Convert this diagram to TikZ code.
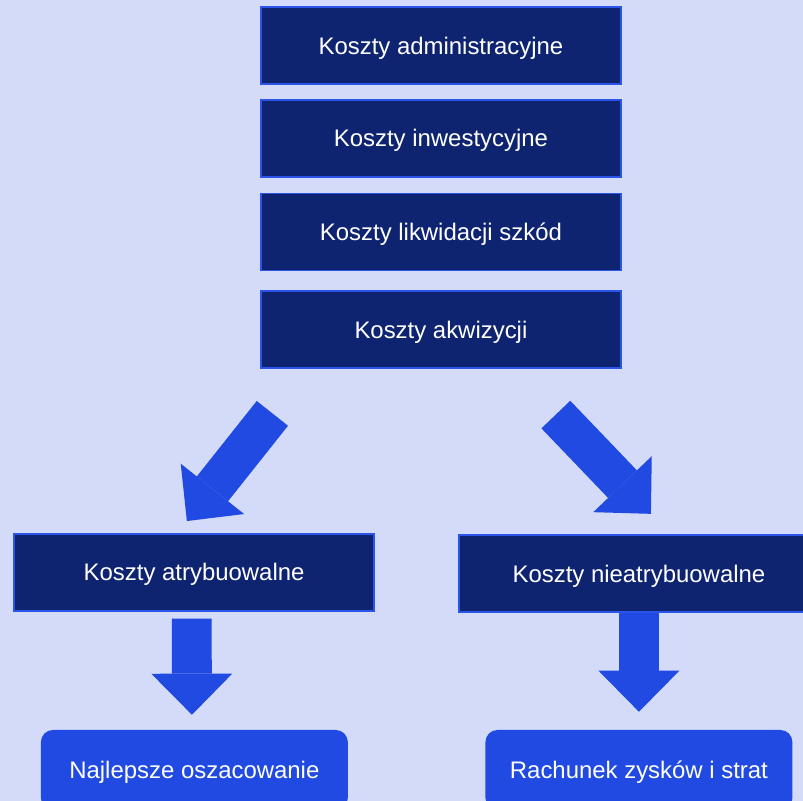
\documentclass[tikz,border=0pt]{standalone}
\usepackage{fontspec}
\setmainfont{Liberation Sans}
\usetikzlibrary{arrows.meta, positioning}
\definecolor{bgblue}{HTML}{D3DBF8}
\definecolor{navy}{HTML}{0F2471}
\definecolor{edgeblue}{HTML}{2B55E8}
\definecolor{arrowblue}{HTML}{204AE2}

\begin{document}
\begin{tikzpicture}[
    cost/.style={rectangle, draw=edgeblue, line width=1.5pt, fill=navy, text=white, minimum width=12cm, minimum height=2.57cm, text height=16.3pt, text depth=0pt, font=\fontsize{22.7}{27}\selectfont},
    result/.style={rectangle, fill=arrowblue, rounded corners=0.4cm, text=white, minimum width=10.23cm, minimum height=2.67cm, text height=16.3pt, text depth=0pt, font=\fontsize{22.7}{27}\selectfont},
    bigarrow/.style={draw=arrowblue, line width=1.33cm, -{Triangle[width=2.7cm, length=1.37cm, line width=0pt]}},
    node distance=0.5cm
]

% Background
\useasboundingbox (0,0) rectangle (26.77,-26.7);
\fill[bgblue] (0,0) rectangle (26.77,-26.7);

% Cost types
\node[cost] (admin) at (14.7,-1.52) {Koszty administracyjne};
\node[cost, below=0.47cm of admin] (invest) {Koszty inwestycyjne};
\node[cost, below=of invest] (claims) {Koszty likwidacji szkód};
\node[cost, below=0.63cm of claims] (acq) {Koszty akwizycji};

% Split
\node[cost] (attr) at (6.47,-19.08) {Koszty atrybuowalne};
\node[cost] (nonattr) at (21.3,-19.12) {Koszty nieatrybuowalne};

% Outcomes
\node[result] (best) at (6.48,-25.67) {Najlepsze oszacowanie};
\node[result] (pl) at (21.3,-25.67) {Rachunek zysków i strat};

% Arrow ends
\coordinate (leftfrom) at (9.08,-13.78);
\coordinate (leftto) at (6.23,-17.37);
\coordinate (rightfrom) at (18.53,-13.82);
\coordinate (rightto) at (21.7,-17.13);

\draw[bigarrow] (leftfrom) -- (leftto);
\draw[bigarrow] (rightfrom) -- (rightto);
\draw[bigarrow, shorten <=0.23cm, shorten >=0.5cm] ([xshift=-0.08cm]attr.south) -- ([xshift=-0.08cm]best.north);
\draw[bigarrow, shorten >=0.6cm] (nonattr.south) -- (pl.north);

\end{tikzpicture}
\end{document}
